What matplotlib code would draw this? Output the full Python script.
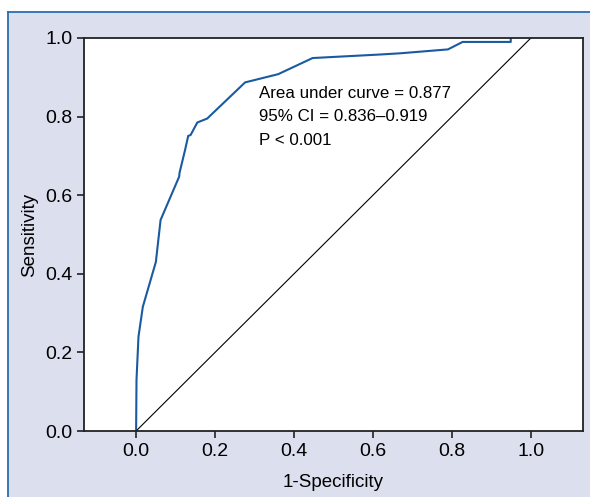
import matplotlib.pyplot as plt
from matplotlib.patches import Rectangle
from matplotlib.lines import Line2D

# ROC curve
fpr = [0.0, 0.001, 0.006, 0.017, 0.05, 0.062, 0.109, 0.11, 0.124, 0.132, 0.138,
       0.155, 0.18, 0.276, 0.36, 0.447, 0.618, 0.668, 0.79, 0.827, 0.949, 0.949]
tpr = [0.0, 0.13, 0.24, 0.316, 0.43, 0.537, 0.647, 0.657, 0.715, 0.751, 0.753,
       0.785, 0.795, 0.887, 0.908, 0.949, 0.958, 0.961, 0.971, 0.99, 0.99, 1.0]
xticks = [0.0, 0.2, 0.4, 0.6, 0.8, 1.0]
yticks = [0.0, 0.2, 0.4, 0.6, 0.8, 1.0]
stats = ["Area under curve = 0.877", "95% CI = 0.836\u20130.919", "P < 0.001"]
stats_y = [0.860, 0.799, 0.740]

plt.rcParams["font.family"] = ["Liberation Sans", "DejaVu Sans"]

W, H = 590, 497
fig = plt.figure(figsize=(W / 100, H / 100), dpi=100)
fig.patch.set_facecolor("white")

# lavender panel with blue frame on top/left
fig.add_artist(Rectangle((8 / W, 0), 1 - 8 / W, 1 - 12 / H, transform=fig.transFigure,
                         facecolor="#dcdfee", edgecolor="none", zorder=0))
fig.add_artist(Line2D([8 / W, 8 / W], [0, 1 - 12 / H], transform=fig.transFigure,
                      color="#2a6db0", lw=1.3))
fig.add_artist(Line2D([8 / W, 1], [1 - 12 / H, 1 - 12 / H], transform=fig.transFigure,
                      color="#2a6db0", lw=1.3))

ax = fig.add_axes([84 / W, 66 / H, (583 - 84) / W, (431 - 38) / H])
ax.set_facecolor("white")
ax.plot(fpr, tpr, color="#1a5aa0", lw=1.5)
ax.plot([0, 1], [0, 1], color="black", lw=0.8)

ax.set_xlim(-0.132, 1.132)
ax.set_ylim(0, 1)
ax.set_xticks(xticks)
ax.set_yticks(yticks)
ax.set_xticklabels([f"{t:.1f}" for t in xticks])
ax.set_yticklabels([f"{t:.1f}" for t in yticks])
ax.tick_params(labelsize=14, length=5, width=1.2, direction="out", color="#222222")
for s in ax.spines.values():
    s.set_linewidth(1.3)
    s.set_color("#222222")

ax.set_xlabel("1-Specificity", fontsize=13.5, labelpad=10)
ax.set_ylabel("Sensitivity", fontsize=13.5, labelpad=5)

for line, y in zip(stats, stats_y):
    ax.text(0.311, y, line, fontsize=12.2, va="center", ha="left")

fig.savefig("out.png", dpi=100)
